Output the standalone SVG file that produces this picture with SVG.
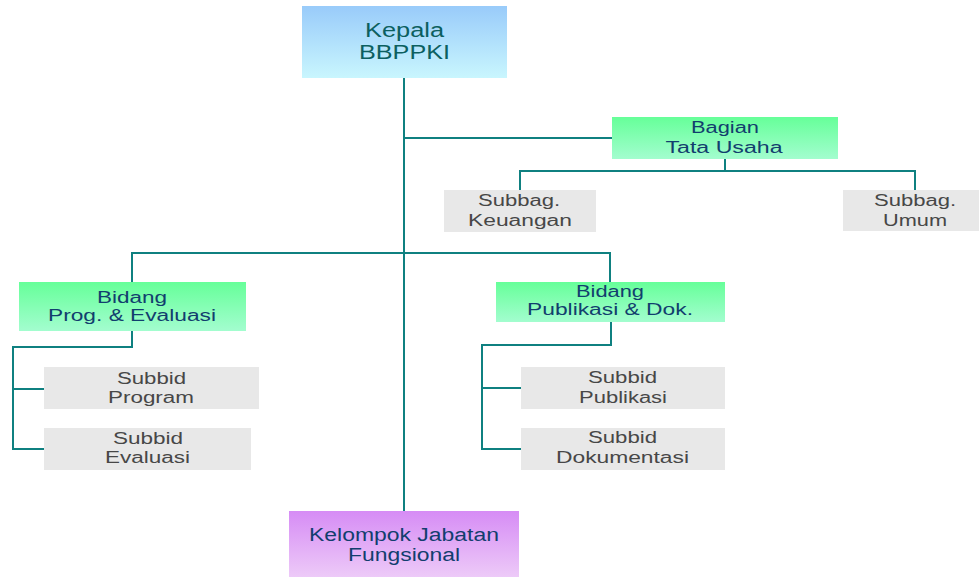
<svg xmlns="http://www.w3.org/2000/svg" width="979" height="577" viewBox="0 0 979 577">
<defs>
<linearGradient id="gBlue" x1="0" y1="0" x2="0" y2="1"><stop offset="0" stop-color="#99cbfa"/><stop offset="1" stop-color="#c9f6fe"/></linearGradient>
<linearGradient id="gGreen" x1="0" y1="0" x2="0" y2="1"><stop offset="0" stop-color="#66ff99"/><stop offset="1" stop-color="#a3fdcf"/></linearGradient>
<linearGradient id="gPurple" x1="0" y1="0" x2="0" y2="1"><stop offset="0" stop-color="#d68cf5"/><stop offset="1" stop-color="#edcaf8"/></linearGradient>
<style>
text{font-family:"Liberation Sans",Arial,sans-serif;text-anchor:middle;font-size:16px}
.head{fill:#0c5f60;font-size:20px}
.main{fill:#123e6e}
.sub{fill:#474747}
.big{font-size:18px}
.conn{fill:none;stroke:#0f8080;stroke-width:2}
.gray{fill:#e8e8e8}
</style>
</defs>
<rect width="979" height="577" fill="#ffffff"/>
<g id="connectors">
<path class="conn" d="M404 78V511"/>
<path class="conn" d="M404 138H612"/>
<path class="conn" d="M725 159V171M520 190V171H915V190"/>
<path class="conn" d="M132 282V253H610V282"/>
<path class="conn" d="M132 331V347H13V449H44M13 389H44"/>
<path class="conn" d="M611 322V345H482V449H521M482 388H521"/>
</g>
<g id="kepala">
<rect x="302" y="6" width="205" height="72" fill="url(#gBlue)"/>
<text class="head" x="404.5" y="37" textLength="79" lengthAdjust="spacingAndGlyphs">Kepala</text>
<text class="head" x="404.5" y="59" textLength="91" lengthAdjust="spacingAndGlyphs">BBPPKI</text>
</g>
<g id="bagian-tu">
<rect x="612" y="117" width="226" height="42" fill="url(#gGreen)"/>
<text class="main" x="725" y="133" textLength="68" lengthAdjust="spacingAndGlyphs">Bagian</text>
<text class="main" x="724" y="153" textLength="117" lengthAdjust="spacingAndGlyphs">Tata Usaha</text>
</g>
<g id="subbag-keuangan">
<rect class="gray" x="444" y="190" width="152" height="42"/>
<text class="sub" x="519" y="206" textLength="82" lengthAdjust="spacingAndGlyphs">Subbag.</text>
<text class="sub" x="520" y="226" textLength="104" lengthAdjust="spacingAndGlyphs">Keuangan</text>
</g>
<g id="subbag-umum">
<rect class="gray" x="843" y="190" width="136" height="41"/>
<text class="sub" x="915" y="206" textLength="82" lengthAdjust="spacingAndGlyphs">Subbag.</text>
<text class="sub" x="915" y="226" textLength="64" lengthAdjust="spacingAndGlyphs">Umum</text>
</g>
<g id="bidang-prog">
<rect x="19" y="282" width="227" height="49" fill="url(#gGreen)"/>
<text class="main" x="132" y="303" textLength="70" lengthAdjust="spacingAndGlyphs">Bidang</text>
<text class="main" x="132" y="321" textLength="168" lengthAdjust="spacingAndGlyphs">Prog. &amp; Evaluasi</text>
</g>
<g id="subbid-program">
<rect class="gray" x="44" y="367" width="215" height="42"/>
<text class="sub" x="151.5" y="384" textLength="69" lengthAdjust="spacingAndGlyphs">Subbid</text>
<text class="sub" x="151" y="403" textLength="86" lengthAdjust="spacingAndGlyphs">Program</text>
</g>
<g id="subbid-evaluasi">
<rect class="gray" x="44" y="428" width="207" height="42"/>
<text class="sub" x="148" y="444" textLength="70" lengthAdjust="spacingAndGlyphs">Subbid</text>
<text class="sub" x="147.5" y="463" textLength="85" lengthAdjust="spacingAndGlyphs">Evaluasi</text>
</g>
<g id="bidang-publikasi">
<rect x="496" y="282" width="229" height="40" fill="url(#gGreen)"/>
<text class="main" x="610" y="297" textLength="68" lengthAdjust="spacingAndGlyphs">Bidang</text>
<text class="main" x="610" y="315" textLength="166" lengthAdjust="spacingAndGlyphs">Publikasi &amp; Dok.</text>
</g>
<g id="subbid-publikasi">
<rect class="gray" x="521" y="367" width="204" height="42"/>
<text class="sub" x="622.5" y="383" textLength="69" lengthAdjust="spacingAndGlyphs">Subbid</text>
<text class="sub" x="623" y="403" textLength="88" lengthAdjust="spacingAndGlyphs">Publikasi</text>
</g>
<g id="subbid-dokumentasi">
<rect class="gray" x="521" y="428" width="204" height="42"/>
<text class="sub" x="622.5" y="443" textLength="69" lengthAdjust="spacingAndGlyphs">Subbid</text>
<text class="sub" x="622.5" y="463" textLength="133" lengthAdjust="spacingAndGlyphs">Dokumentasi</text>
</g>
<g id="kelompok-jf">
<rect x="289" y="511" width="230" height="66" fill="url(#gPurple)"/>
<text class="main big" x="404" y="541" textLength="190" lengthAdjust="spacingAndGlyphs">Kelompok Jabatan</text>
<text class="main big" x="404" y="561" textLength="112" lengthAdjust="spacingAndGlyphs">Fungsional</text>
</g>
</svg>
